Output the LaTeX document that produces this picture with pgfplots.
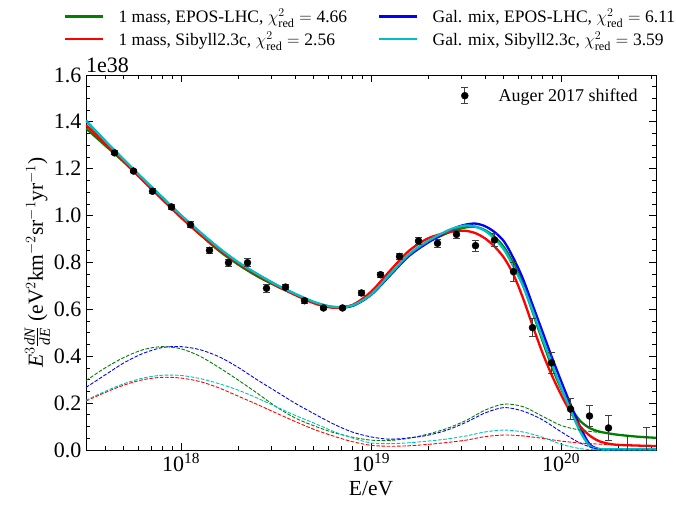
\documentclass[border=0pt]{standalone}
\usepackage{amsmath}
\usepackage{fontspec}
\setmainfont{Liberation Serif}
\usepackage{pgfplots}
\pgfplotsset{compat=1.18}
\usepackage{pgfplotstable}

\definecolor{mplgreen}{rgb}{0,0.5,0}
\definecolor{mplred}{rgb}{1,0,0}
\definecolor{mplblue}{rgb}{0,0,1}
\definecolor{mplcyan}{rgb}{0,0.75,0.75}

% total fitted spectra, log10(E/eV) vs E^3 dN/dE in units of 1e38
\pgfplotstableread{
logE  green  red    blue   cyan
17.50 1.372  1.387  1.405  1.405
17.60 1.300  1.308  1.318  1.320
17.70 1.228  1.230  1.236  1.238
17.80 1.150  1.150  1.155  1.158
17.90 1.072  1.070  1.078  1.080
18.00 0.995  0.992  1.000  1.002
18.10 0.920  0.920  0.928  0.930
18.20 0.850  0.855  0.860  0.862
18.30 0.792  0.798  0.800  0.802
18.40 0.742  0.748  0.750  0.752
18.50 0.700  0.703  0.705  0.706
18.60 0.663  0.662  0.665  0.667
18.70 0.629  0.626  0.630  0.632
18.80 0.610  0.607  0.609  0.611
18.90 0.617  0.618  0.614  0.616
19.00 0.665  0.675  0.662  0.664
19.10 0.748  0.765  0.745  0.750
19.20 0.832  0.850  0.828  0.835
19.30 0.888  0.903  0.885  0.892
19.40 0.925  0.928  0.930  0.935
19.45 0.940  0.934  0.950  0.950
19.50 0.950  0.935  0.962  0.958
19.55 0.952  0.925  0.966  0.953
19.60 0.938  0.903  0.955  0.935
19.65 0.910  0.868  0.930  0.902
19.70 0.865  0.820  0.890  0.855
19.75 0.795  0.748  0.818  0.782
19.80 0.705  0.648  0.730  0.700
19.85 0.590  0.532  0.620  0.595
19.90 0.472  0.420  0.510  0.482
19.95 0.360  0.322  0.400  0.372
20.00 0.262  0.236  0.295  0.268
20.05 0.182  0.162  0.195  0.170
20.10 0.125  0.102  0.100  0.080
20.15 0.094  0.062  0.025  0.018
20.20 0.079  0.038  0.004  0.004
20.25 0.071  0.027  0.003  0.003
20.30 0.065  0.022  0.003  0.003
20.40 0.057  0.019  0.003  0.003
20.50 0.052  0.017  0.003  0.003
}\totals

% single components of each fit
\pgfplotstableread{
logE  green  red    blue   cyan
17.5  0.296  0.209  0.267  0.212
17.6  0.350  0.245  0.320  0.250
17.7  0.395  0.277  0.372  0.283
17.8  0.428  0.300  0.412  0.307
17.9  0.441  0.310  0.437  0.319
18.0  0.432  0.307  0.441  0.318
18.1  0.400  0.292  0.428  0.305
18.2  0.352  0.265  0.398  0.283
18.3  0.299  0.230  0.353  0.256
18.4  0.243  0.195  0.300  0.222
18.5  0.185  0.158  0.250  0.185
18.6  0.137  0.122  0.200  0.148
18.7  0.103  0.088  0.155  0.115
18.8  0.075  0.060  0.112  0.080
18.9  0.055  0.036  0.077  0.052
19.0  0.042  0.020  0.056  0.030
19.1  0.041  0.016  0.046  0.027
19.2  0.050  0.018  0.052  0.031
19.3  0.068  0.024  0.063  0.038
19.4  0.092  0.032  0.085  0.047
19.5  0.126  0.042  0.118  0.060
19.6  0.170  0.057  0.158  0.077
19.7  0.196  0.064  0.181  0.085
19.8  0.185  0.060  0.166  0.077
19.9  0.145  0.050  0.130  0.055
20.0  0.105  0.038  0.078  0.025
20.1  0.085  0.030  0.030  0.006
20.2  0.075  0.025  0.002  0.000
20.3  0.065  0.021  0.000  0.000
20.4  0.057  0.019  0.000  0.000
20.5  0.052  0.017  0.000  0.000
}\components

% Auger 2017 spectrum (energy shifted)
\pgfplotstableread{
logE  flux   err
17.65 1.268  0.008
17.75 1.190  0.008
17.85 1.104  0.010
17.95 1.037  0.010
18.05 0.961  0.012
18.15 0.852  0.014
18.25 0.799  0.015
18.35 0.799  0.018
18.45 0.690  0.016
18.55 0.695  0.010
18.65 0.637  0.010
18.75 0.606  0.008
18.85 0.606  0.008
18.95 0.670  0.010
19.05 0.748  0.011
19.15 0.826  0.012
19.25 0.892  0.014
19.35 0.882  0.016
19.45 0.920  0.018
19.55 0.872  0.024
19.65 0.896  0.028
19.75 0.761  0.041
19.85 0.522  0.039
19.95 0.372  0.045
20.05 0.175  0.043
20.15 0.145  0.045
20.25 0.094  0.055
}\auger

% last two bins: only the upper part of the error bar lies above zero
\pgfplotstableread{
logE  flux   err
20.35 -0.050 0.114
20.45 -0.050 0.148
}\augerlow

\pgfplotsset{
  common/.style={
    scale only axis, width=570pt, height=375pt,
    xmin=17.5, xmax=20.5, ymin=0, ymax=1.6,
  },
  comp/.style={line width=0.9pt, dash pattern=on 3.6pt off 1.6pt, smooth, forget plot},
  tot/.style={line width=2.3pt, smooth},
  ebars/.style={error bars/.cd, y dir=both, y explicit,
    error bar style={black!75, line width=1pt},
    error mark options={rotate=90, mark size=3.3pt, line width=1pt, black!75},
    /pgfplots/.cd},
}

\newcommand{\chired}[1]{$\chi^2_{\mathrm{red}}=\text{#1}$}

\begin{document}
\begin{tikzpicture}
\begin{axis}[
  common, name=main,
  xtick={18,19,20},
  xticklabels={10\textsuperscript{18},10\textsuperscript{19},10\textsuperscript{20}},
  minor xtick={17.602,17.699,17.778,17.845,17.903,17.954,
               18.301,18.477,18.602,18.699,18.778,18.845,18.903,18.954,
               19.301,19.477,19.602,19.699,19.778,19.845,19.903,19.954,
               20.301,20.477},
  ytick={0,0.2,...,1.6},
  minor y tick num=3,
  tick align=inside,
  major tick length=7pt, minor tick length=3.8pt,
  every tick/.style={black, line width=0.8pt},
  axis line style={line width=0.9pt},
  scaled y ticks=false,
  /pgf/number format/assume math mode=true,
  ticklabel style={font=\fontsize{22}{26}\selectfont},
  yticklabel style={xshift=-1pt, /pgf/number format/.cd, fixed, fixed zerofill, precision=1},
  label style={font=\fontsize{21.5}{25}\selectfont},
  xlabel={E/eV},
  xlabel style={yshift=-3pt},
  ylabel={$\textit{E}^{3}\frac{\textit{dN}}{\textit{dE}}$ (eV$^{2}$km$^{-2}$sr$^{-1}$yr$^{-1}$)},
  ylabel shift=-3pt,
  legend columns=2,
  legend cell align=left,
  legend image code/.code={\draw[#1, line width=2.4pt] (0pt,0pt) -- (38pt,0pt);},
  legend style={at={(rel axis cs:-0.0386,1)}, anchor=south west, yshift=28pt,
    draw=none, fill=none, inner sep=0pt, nodes={inner sep=0pt},
    font=\fontsize{17.5}{21}\selectfont, row sep=7pt, column sep=14pt,
    /tikz/every even column/.append style={column sep=31pt}},
]
\addplot[tot, mplgreen] table[x=logE, y=green] {\totals};
\addlegendentry{1 mass, EPOS-LHC, \chired{4.66}}
\addplot[tot, mplblue] table[x=logE, y=blue] {\totals};
\addlegendentry{Gal. mix, EPOS-LHC, \chired{6.11}}
\addplot[tot, mplred] table[x=logE, y=red] {\totals};
\addlegendentry{1 mass, Sibyll2.3c, \chired{2.56}}
\addplot[tot, mplcyan] table[x=logE, y=cyan] {\totals};
\addlegendentry{Gal. mix, Sibyll2.3c, \chired{3.59}}

\addplot[comp, mplgreen] table[x=logE, y=green] {\components};
\addplot[comp, mplred] table[x=logE, y=red] {\components};
\addplot[comp, mplblue] table[x=logE, y=blue] {\components};
\addplot[comp, mplcyan] table[x=logE, y=cyan] {\components};
\end{axis}

\begin{axis}[
  common, hide axis,
  legend style={at={(rel axis cs:0.968,0.968)}, anchor=north east,
    draw=none, fill=none, inner sep=0pt, nodes={inner sep=0pt},
    column sep=30pt, font=\fontsize{18}{21}\selectfont},
]
\addplot[only marks, mark=*, mark size=3.5pt, black,
  legend image code/.code={
    \draw[black!75, line width=1pt] (0pt,-8pt) -- (0pt,8pt)
      (-3.3pt,-8pt) -- (3.3pt,-8pt) (-3.3pt,8pt) -- (3.3pt,8pt);
    \fill[black] (0pt,0pt) circle (3.5pt);},
  ebars]
  table[x=logE, y=flux, y error=err] {\auger};
\addlegendentry{Auger 2017 shifted}
\addplot[draw=none, mark=none, forget plot, ebars]
  table[x=logE, y=flux, y error=err] {\augerlow};
\end{axis}

\node[anchor=base west, inner sep=0pt, font=\fontsize{22}{26}\selectfont]
  at ([yshift=2.5pt]main.north west) {1e38};

\pgfresetboundingbox
\path[use as bounding box] (-86pt,-57pt) rectangle (590pt,450pt);
\end{tikzpicture}
\end{document}
